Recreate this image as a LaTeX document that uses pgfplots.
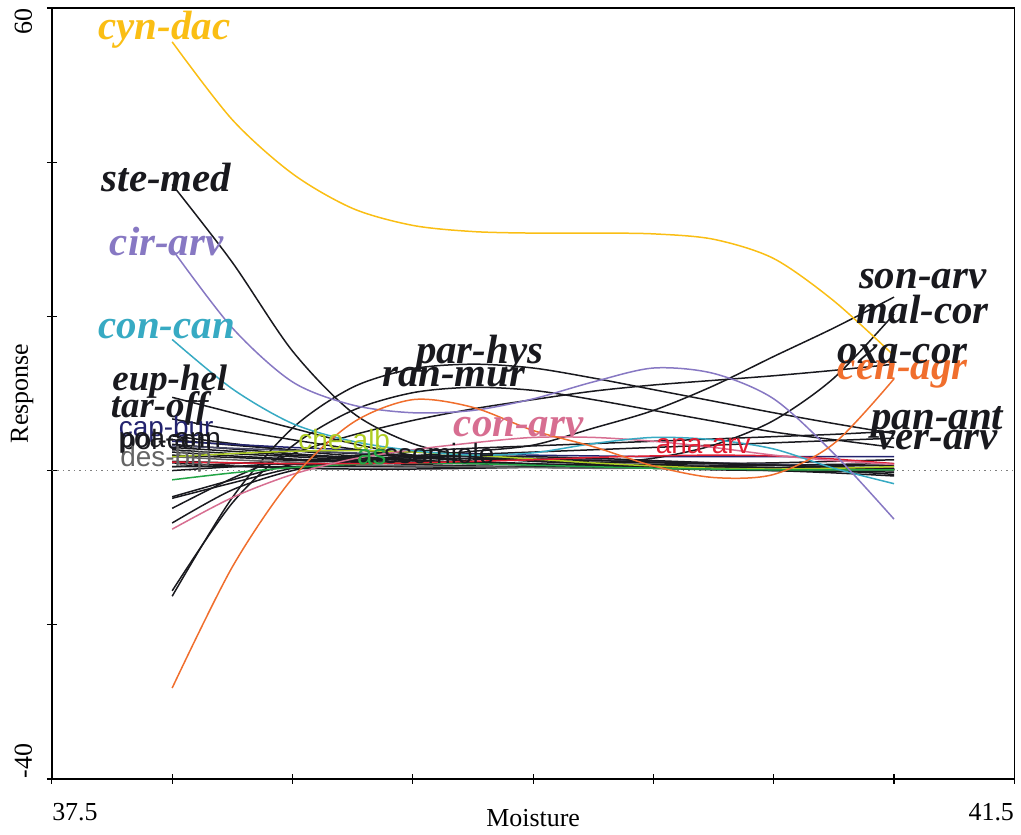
\documentclass[border=0pt]{standalone}
\usepackage{fontspec}
\setmainfont{Liberation Serif}
\newfontfamily\arial{Liberation Sans}
\usepackage{pgfplots}
\usepackage{pgfplotstable}
\usetikzlibrary{calc}
\pgfplotsset{compat=1.18}
\definecolor{cyndacC}{RGB}{250,190,20}
\definecolor{cirarvC}{RGB}{135,120,195}
\definecolor{concanC}{RGB}{55,170,195}
\definecolor{cenagrC}{RGB}{240,110,45}
\definecolor{conarvC}{RGB}{215,110,145}
\definecolor{chealbC}{RGB}{175,205,35}
\definecolor{greenC}{RGB}{35,165,70}
\definecolor{anaarvC}{RGB}{225,30,50}
\definecolor{navyC}{RGB}{35,35,110}
\definecolor{blk}{RGB}{25,25,30}
\definecolor{grayC}{RGB}{100,100,100}

\pgfplotstableread{
x     cyndac stemed cirarv concan euphel taroff parhys ranmur cenagr conarv sonarv malcor oxacor panant verarv chealb anaarv green desbip
38    55.6   37.1   28.7   17.0   9.5    6.7    -16.3  -15.6  -28.2  -7.6   -6.8   1.0    -4.9   -3.4   -3.6   1.8    1.1    -1.2  1.8
38.25 45.5   27.0   18.5   10.6   7.5    5.3    -3.5   -4.2   -12.5  -3.5   -2.5   0.6    -1.0   -1.2   -1.6   2.2    1.0    -0.3  1.4
38.5  38.5   15.5   11.5   6.1    5.5    4.0    5.5    3.2    -1.0   -0.5   0.0    0.3    2.2    0.8    0.3    2.5    0.9    0.4   1.1
38.75 34.0   7.5    8.5    3.8    3.5    2.8    10.8   7.8    6.2    1.5    1.2    0.2    4.6    1.9    1.2    2.6    0.9    0.8   0.8
39    31.8   3.5    7.5    2.6    2.0    1.8    13.2   10.1   9.2    2.7    1.9    0.2    6.5    2.5    1.7    2.4    1.0    1.0   0.6
39.25 31.0   1.8    7.8    2.0    1.2    1.2    13.8   10.8   8.2    3.6    2.5    0.3    8.0    2.9    2.1    2.0    1.2    0.9   0.5
39.5  30.8   1.2    9.3    2.3    0.8    0.9    13.3   10.4   5.2    4.3    3.3    0.5    9.2    3.2    2.4    1.5    1.4    0.7   0.4
39.75 30.8   0.9    11.5   3.5    0.6    0.6    12.0   9.2    3.1    4.3    5.5    0.9    10.3   3.5    2.7    1.0    1.7    0.5   0.3
40    30.7   0.7    13.3   4.3    0.5    0.5    10.5   7.8    0.6    3.8    7.8    1.6    11.1   3.8    3.0    0.6    1.9    0.3   0.3
40.25 30.0   0.5    12.6   4.0    0.4    0.4    9.0    6.4    -0.9   3.0    11.0   3.3    11.7   4.1    3.3    0.3    2.0    0.2   0.2
40.5  27.5   0.4    9.3    2.8    0.3    0.3    7.5    5.0    -0.5   2.0    14.8   6.5    12.3   4.4    3.6    0.2    1.9    0.1   0.2
40.75 22.0   0.3    2.2    0.3    0.3    0.2    6.1    4.0    3.5    1.3    18.5   12.0   13.0   4.7    3.9    0.3    1.5    0.1   0.1
41    14.9   0.2    -6.3   -1.7   0.2    0.2    4.8    3.0    11.9   0.8    22.5   20.3   13.8   5.1    4.2    0.5    0.9    0.1   0.1
}\named

\pgfplotstableread{
x     n1   n2   n3   n4   n5   n6   n7   n8   n9   n10  n11  a1   a2
38    4.5  4.0  3.8  3.4  3.0  2.7  2.4  2.0  1.2  3.2  0.5  0.5  0.0
38.25 3.5  3.3  3.4  2.8  2.5  2.2  1.9  1.7  1.0  2.9  0.5  0.9  0.5
38.5  2.6  2.7  3.0  2.2  2.0  1.8  1.5  1.4  0.8  2.6  0.5  1.3  1.0
38.75 1.9  2.2  2.7  1.7  1.6  1.4  1.1  1.2  0.6  2.3  0.5  1.6  1.3
39    1.4  1.8  2.4  1.3  1.3  1.1  0.8  1.0  0.5  2.0  0.5  1.8  1.5
39.25 1.0  1.5  2.2  1.0  1.0  0.9  0.6  0.9  0.4  1.8  0.5  1.9  1.6
39.5  0.8  1.3  2.0  0.7  0.8  0.8  0.5  0.8  0.4  1.6  0.5  1.8  1.5
39.75 0.6  1.1  1.9  0.5  0.6  0.8  0.4  0.7  0.4  1.4  0.5  1.6  1.3
40    0.5  1.0  1.8  0.3  0.4  0.8  0.3  0.6  0.5  1.2  0.5  1.3  1.1
40.25 0.4  0.9  1.8  0.1  0.2  0.9  0.3  0.5  0.6  1.0  0.5  1.0  0.9
40.5  0.3  0.8  1.8  0.0  0.0  1.0  0.2  0.3  0.7  0.8  0.4  0.7  0.7
40.75 0.2  0.7  1.8  -0.1 -0.3 1.2  0.1  0.0  0.8  0.5  0.3  0.4  0.5
41    0.1  0.6  1.8  -0.2 -0.7 1.4  0.0  -0.5 0.9  0.2  0.2  0.1  0.3
}\unnamed

\tikzset{
  big/.style={inner sep=0pt, font=\fontsize{20.5}{20.5}\selectfont\bfseries\itshape},
  mid/.style={inner sep=0pt, font=\fontsize{18.5}{18.5}\selectfont\bfseries\itshape},
  sml/.style={inner sep=0pt, font=\arial\fontsize{14}{14}\selectfont},
}

\begin{document}
\begin{tikzpicture}
\begin{axis}[
  scale only axis, width=482.5pt, height=386.5pt,
  xmin=37.5, xmax=41.5, ymin=-40, ymax=60,
  xtick={37.5,38,...,41.5}, ytick={-40,-20,...,60},
  xticklabels={}, yticklabels={},
  tick align=center, major tick length=5pt,
  xtick pos=left, ytick pos=left,
  axis line style={line width=0.8pt, black},
  tick style={black, line width=0.6pt},
  clip=false,
  every axis plot/.append style={line width=0.75pt, smooth, no markers},
]
\coordinate (SW) at (rel axis cs:0,0);
\coordinate (NE) at (rel axis cs:1,1);
\addplot[gray, dotted, line width=0.6pt, sharp plot] coordinates {(37.5,0) (41.5,0)};

% unnamed black curves
\addplot[blk] table[x=x,y=n1] {\unnamed};
\addplot[blk] table[x=x,y=n2] {\unnamed};
\addplot[navyC] table[x=x,y=n3] {\unnamed};
\addplot[blk] table[x=x,y=n4] {\unnamed};
\addplot[blk] table[x=x,y=n5] {\unnamed};
\addplot[blk] table[x=x,y=n6] {\unnamed};
\addplot[blk] table[x=x,y=n7] {\unnamed};
\addplot[blk] table[x=x,y=n8] {\unnamed};
\addplot[blk] table[x=x,y=n9] {\unnamed};
\addplot[black!70!blue!40!gray] table[x=x,y=n10] {\unnamed};
\addplot[blk] table[x=x,y=n11] {\unnamed};
\addplot[blk] table[x=x,y=a1] {\unnamed};
\addplot[blk] table[x=x,y=a2] {\unnamed};

% named black curves
\addplot[blk] table[x=x,y=stemed] {\named};
\addplot[blk] table[x=x,y=euphel] {\named};
\addplot[blk] table[x=x,y=taroff] {\named};
\addplot[blk] table[x=x,y=parhys] {\named};
\addplot[blk] table[x=x,y=ranmur] {\named};
\addplot[blk] table[x=x,y=sonarv] {\named};
\addplot[blk] table[x=x,y=malcor] {\named};
\addplot[blk] table[x=x,y=oxacor] {\named};
\addplot[blk] table[x=x,y=panant] {\named};
\addplot[blk] table[x=x,y=verarv] {\named};
\addplot[grayC] table[x=x,y=desbip] {\named};

% coloured curves
\addplot[chealbC] table[x=x,y=chealb] {\named};
\addplot[greenC] table[x=x,y=green] {\named};
\addplot[anaarvC] table[x=x,y=anaarv] {\named};
\addplot[conarvC] table[x=x,y=conarv] {\named};
\addplot[concanC] table[x=x,y=concan] {\named};
\addplot[cirarvC] table[x=x,y=cirarv] {\named};
\addplot[cenagrC] table[x=x,y=cenagr] {\named};
\addplot[cyndacC] table[x=x,y=cyndac] {\named};

% labels
\node[big, text=cyndacC] at (axis cs:37.968,57.15) {cyn-dac};
\node[big, text=blk] at (axis cs:37.977,38.0) {ste-med};
\node[big, text=cirarvC] at (axis cs:37.977,29.73) {cir-arv};
\node[big, text=concanC] at (axis cs:37.977,18.34) {con-can};
\node[mid, text=blk] at (axis cs:37.99,11.49) {eup-hel};
\node[mid, text=blk] at (axis cs:37.948,8.0) {tar-off};
\node[sml, text=navyC] at (axis cs:37.975,5.35) {cap-bur};
\node[sml, text=blk] at (axis cs:37.975,3.7) {pol-con};
\node[sml, text=blk] at (axis cs:37.99,3.6) {poa-ann};
\node[sml, text=grayC] at (axis cs:37.975,1.5) {des-bip};
\node[sml, text=chealbC] at (axis cs:38.715,3.98) {che-alb};
\node[sml, text=greenC] at (axis cs:38.83,1.79) {as};
\node[sml, text=blk] at (axis cs:39.11,2.17) {ssomiole};
\node[big, text=blk] at (axis cs:39.278,15.11) {par-hys};
\node[big, text=blk] at (axis cs:39.17,12.14) {ran-mur};
\node[big, text=conarvC] at (axis cs:39.44,5.67) {con-arv};
\node[sml, text=anaarvC] at (axis cs:40.207,3.21) {ana-arv};
\node[big, text=blk] at (axis cs:41.119,24.81) {son-arv};
\node[big, text=blk] at (axis cs:41.119,20.93) {mal-cor};
\node[big, text=cenagrC] at (axis cs:41.036,12.52) {cen-agr};
\node[big, text=blk] at (axis cs:41.036,15.11) {oxa-cor};
\node[big, text=blk] at (axis cs:41.18,6.31) {pan-ant};
\node[big, text=blk] at (axis cs:41.18,3.98) {ver-arv};
\end{axis}
% tick labels and axis titles
\node[font=\fontsize{13}{13}\selectfont, rotate=90, anchor=base east, inner sep=0pt] at ([xshift=-10pt]SW |- NE) {60};
\node[font=\fontsize{13}{13}\selectfont, rotate=90, anchor=base west, inner sep=0pt] at ([xshift=-10pt]SW) {-40};
\node[font=\fontsize{13}{13}\selectfont, rotate=90, anchor=base, inner sep=0pt] at ([xshift=-12pt]$(SW)!0.5!(SW |- NE)$) {Response};
\node[font=\fontsize{13}{13}\selectfont, anchor=base west, inner sep=0pt] at ([yshift=-21pt]SW) {37.5};
\node[font=\fontsize{13}{13}\selectfont, anchor=base east, inner sep=0pt] at ([yshift=-21pt]NE |- SW) {41.5};
\node[font=\fontsize{13}{13}\selectfont, anchor=base, inner sep=0pt] at ([yshift=-24pt]$(SW)!0.5!(NE |- SW)$) {Moisture};
\path ([xshift=-26pt,yshift=-28pt]SW) rectangle ([xshift=2pt,yshift=4pt]NE);
\end{tikzpicture}
\end{document}
